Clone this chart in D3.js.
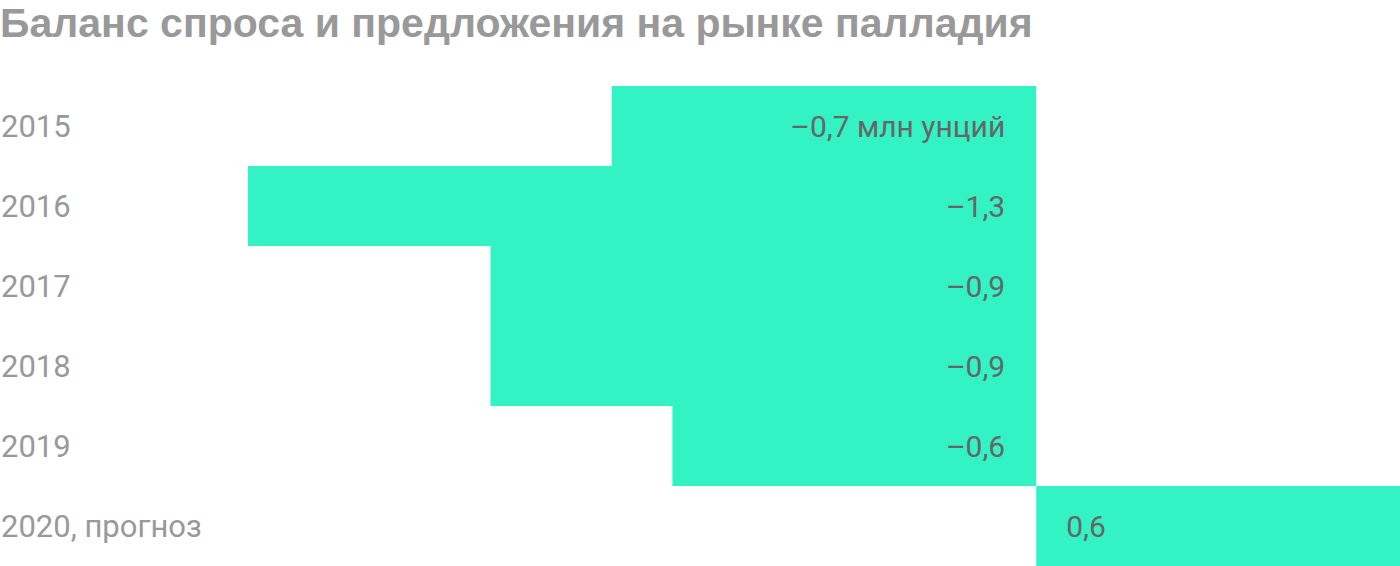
<!DOCTYPE html>
<html>
<head>
<meta charset="utf-8">
<script src="https://cdn.jsdelivr.net/npm/d3@7"></script>
<style>
  body { margin: 0; background: #fff; }
  svg { display: block; }
</style>
</head>
<body>
<div id="chart"></div>
<script>
// data
var years = ["2015", "2016", "2017", "2018", "2019", "2020, прогноз"];
var balance = [-0.7, -1.3, -0.9, -0.9, -0.6, 0.6];
var valueLabels = ["–0,7 млн унций", "–1,3", "–0,9", "–0,9", "–0,6", "0,6"];

var width = 1400, height = 566;
var svg = d3.select("#chart").append("svg")
    .attr("width", width)
    .attr("height", height);

// title
svg.append("text")
    .attr("x", 0)
    .attr("y", 37)
    .attr("font-family", "Liberation Sans, Arial, sans-serif")
    .attr("font-weight", "bold")
    .attr("font-size", 41)
    .attr("fill", "#999")
    .text("Баланс спроса и предложения на рынке палладия");

var xScale = d3.scaleLinear()
    .domain([-1.3, 0.6])
    .range([248, 1400]);

var yScale = d3.scaleBand()
    .domain(years)
    .range([86, 566])
    .padding(0);

var data = years.map((y, i) => ({year: y, value: balance[i], label: valueLabels[i]}));

// bars
svg.selectAll(".bar")
    .data(data)
    .enter()
    .append("rect")
    .attr("class", "bar")
    .attr("x", d => xScale(Math.min(0, d.value)))
    .attr("y", d => yScale(d.year))
    .attr("width", d => Math.abs(xScale(d.value) - xScale(0)))
    .attr("height", yScale.bandwidth())
    .attr("fill", "#33f3c4");

// year labels
svg.selectAll(".year")
    .data(data)
    .enter()
    .append("text")
    .attr("class", "year")
    .attr("x", 1)
    .attr("y", d => yScale(d.year) + yScale.bandwidth() / 2 + 11)
    .attr("font-family", "Roboto, sans-serif")
    .attr("font-size", 31)
    .attr("fill", "#999")
    .text(d => d.year);

// value labels
svg.selectAll(".val")
    .data(data)
    .enter()
    .append("text")
    .attr("class", "val")
    .attr("x", d => d.value < 0 ? xScale(0) - 31 : xScale(0) + 30)
    .attr("y", d => yScale(d.year) + yScale.bandwidth() / 2 + 11)
    .attr("text-anchor", d => d.value < 0 ? "end" : "start")
    .attr("font-family", "Roboto, sans-serif")
    .attr("font-size", 30)
    .attr("fill", "#666")
    .text(d => d.label);
</script>
</body>
</html>
